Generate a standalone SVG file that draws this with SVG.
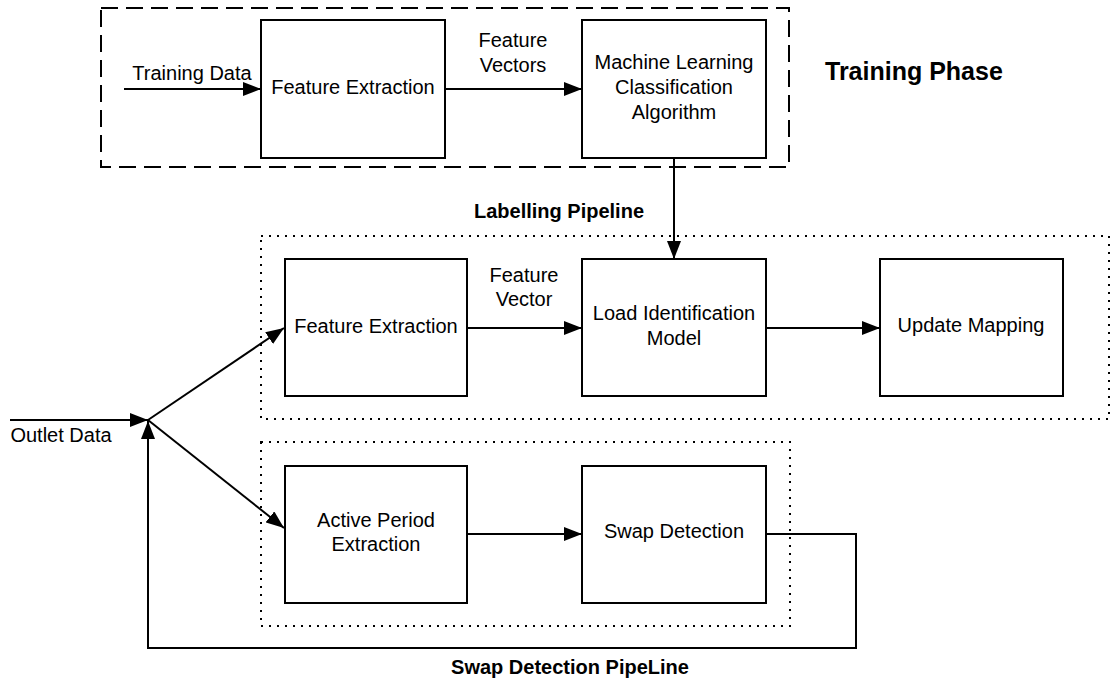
<svg xmlns="http://www.w3.org/2000/svg" width="1120" height="682" viewBox="0 0 1120 682">
  <style>
    .box { fill: #fff; stroke: #000; stroke-width: 2; }
    .lbl { font-family: "Liberation Sans", Arial, sans-serif; font-size: 20px; fill: #000; text-anchor: middle; }
    .title { font-family: "Liberation Sans", Arial, sans-serif; font-size: 20px; font-weight: bold; fill: #000; }
    .edge { fill: none; stroke: #000; stroke-width: 2; }
    .dashed { fill: none; stroke: #000; stroke-width: 2; stroke-dasharray: 17 8; }
    .dotted { fill: none; stroke: #000; stroke-width: 2; stroke-dasharray: 2 6; }
  </style>
  <defs>
    <marker id="arrow" markerWidth="18" markerHeight="14" refX="18" refY="7" orient="auto" markerUnits="userSpaceOnUse">
      <path d="M0,0 L18,7 L0,14 Z" fill="#000"/>
    </marker>
  </defs>
  <rect width="1120" height="682" fill="#fff"/>

  <!-- group frames -->
  <g id="frames">
    <rect class="dashed" x="101" y="8" width="688" height="159"/>
    <rect class="dotted" x="261" y="236" width="848" height="183"/>
    <rect class="dotted" x="261" y="442" width="529" height="184"/>
  </g>

  <!-- headings -->
  <g id="headings">
    <text class="title" x="825" y="80" style="font-size:25px">Training Phase</text>
    <text class="title" x="559" y="218" text-anchor="middle">Labelling Pipeline</text>
    <text class="title" x="570" y="674" text-anchor="middle">Swap Detection PipeLine</text>
  </g>

  <!-- connectors -->
  <g id="connectors">
    <line class="edge" x1="124" y1="89" x2="261" y2="89" marker-end="url(#arrow)"/>
    <line class="edge" x1="445" y1="89" x2="582" y2="89" marker-end="url(#arrow)"/>
    <line class="edge" x1="674" y1="158" x2="674" y2="259" marker-end="url(#arrow)"/>
    <line class="edge" x1="10" y1="420" x2="148" y2="420" marker-end="url(#arrow)"/>
    <line class="edge" x1="148" y1="420" x2="284" y2="328" marker-end="url(#arrow)"/>
    <line class="edge" x1="148" y1="420" x2="284" y2="528" marker-end="url(#arrow)"/>
    <line class="edge" x1="467" y1="328" x2="582" y2="328" marker-end="url(#arrow)"/>
    <line class="edge" x1="766" y1="328" x2="880" y2="328" marker-end="url(#arrow)"/>
    <line class="edge" x1="467" y1="534" x2="582" y2="534" marker-end="url(#arrow)"/>
    <polyline class="edge" points="766,534 856,534 856,648 148,648 148,421" marker-end="url(#arrow)"/>
  </g>

  <!-- edge labels -->
  <g id="edge-labels">
    <text class="lbl" x="192" y="80">Training Data</text>
    <text class="lbl" x="513" y="47">Feature</text>
    <text class="lbl" x="513" y="72">Vectors</text>
    <text class="lbl" x="524" y="282">Feature</text>
    <text class="lbl" x="524" y="306">Vector</text>
    <text class="lbl" x="61" y="442">Outlet Data</text>
  </g>

  <g id="train-feature-extraction">
    <rect class="box" x="261" y="20" width="184" height="138"/>
    <text class="lbl" x="353" y="94">Feature Extraction</text>
  </g>

  <g id="ml-classification">
    <rect class="box" x="582" y="20" width="184" height="138"/>
    <text class="lbl" x="674" y="69">Machine Learning</text>
    <text class="lbl" x="674" y="94">Classification</text>
    <text class="lbl" x="674" y="119">Algorithm</text>
  </g>

  <g id="label-feature-extraction">
    <rect class="box" x="285" y="259" width="182" height="137"/>
    <text class="lbl" x="376" y="333">Feature Extraction</text>
  </g>

  <g id="load-identification">
    <rect class="box" x="582" y="259" width="184" height="137"/>
    <text class="lbl" x="674" y="320">Load Identification</text>
    <text class="lbl" x="674" y="345">Model</text>
  </g>

  <g id="update-mapping">
    <rect class="box" x="880" y="259" width="183" height="137"/>
    <text class="lbl" x="971" y="332">Update Mapping</text>
  </g>

  <g id="active-period">
    <rect class="box" x="285" y="466" width="182" height="137"/>
    <text class="lbl" x="376" y="527">Active Period</text>
    <text class="lbl" x="376" y="551">Extraction</text>
  </g>

  <g id="swap-detection">
    <rect class="box" x="582" y="466" width="184" height="137"/>
    <text class="lbl" x="674" y="538">Swap Detection</text>
  </g>
</svg>
